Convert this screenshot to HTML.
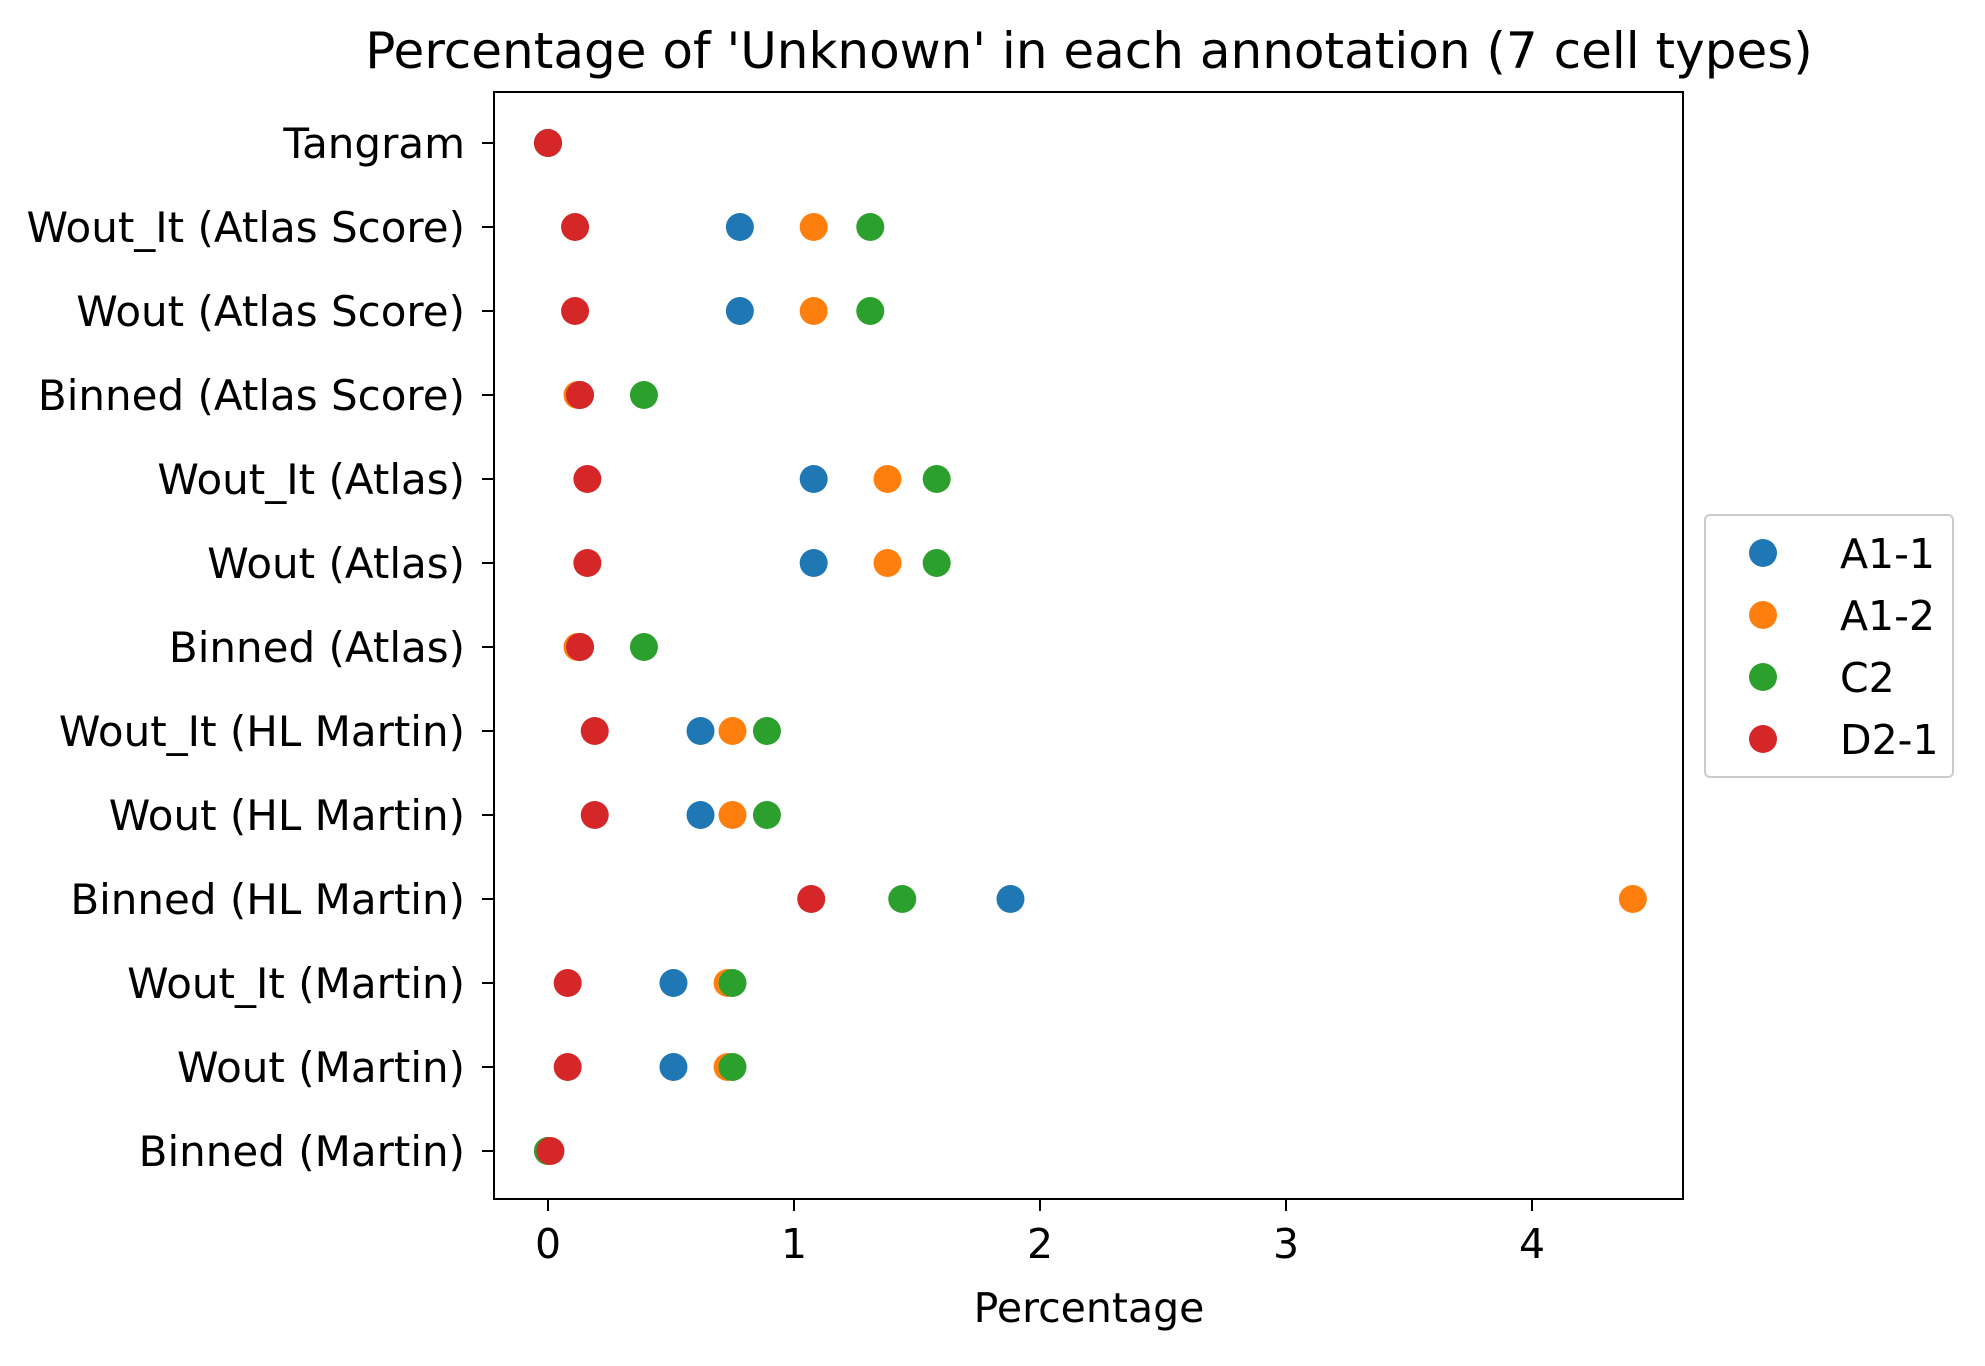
<!DOCTYPE html>
<html><head><meta charset="utf-8"><style>
body{margin:0;background:#fff}
svg text{font-family:"DejaVu Sans","Liberation Sans",sans-serif;fill:#000}
</style></head><body>
<svg id="chart" width="1985" height="1361" xmlns="http://www.w3.org/2000/svg">
<rect width="1985" height="1361" fill="#fff"/>
<text x="1089" y="68" font-size="50" text-anchor="middle">Percentage of 'Unknown' in each annotation (7 cell types)</text>
<g id="ticks"></g>
<g id="marks"></g>
<rect x="494" y="92" width="1189" height="1107" fill="none" stroke="#000" stroke-width="2"/>
<text x="1089" y="1322" font-size="41" text-anchor="middle">Percentage</text>
<g id="legend"></g>
</svg>
<script>
const categories=["Tangram","Wout_It (Atlas Score)","Wout (Atlas Score)","Binned (Atlas Score)","Wout_It (Atlas)","Wout (Atlas)","Binned (Atlas)","Wout_It (HL Martin)","Wout (HL Martin)","Binned (HL Martin)","Wout_It (Martin)","Wout (Martin)","Binned (Martin)"];
const seriesNames=["A1-1","A1-2","C2","D2-1"];
const colors=["#1f77b4","#ff7f0e","#2ca02c","#d62728"];
const a11=[0,0.78,0.78,0.13,1.08,1.08,0.13,0.62,0.62,1.88,0.51,0.51,0];
const a12=[0,1.08,1.08,0.12,1.38,1.38,0.12,0.75,0.75,4.41,0.73,0.73,0];
const c2=[0,1.31,1.31,0.39,1.58,1.58,0.39,0.89,0.89,1.44,0.75,0.75,0];
const d21=[0,0.11,0.11,0.13,0.16,0.16,0.13,0.19,0.19,1.07,0.08,0.08,0.01];
const xTicks=[0,1,2,3,4];
const series=[a11,a12,c2,d21];
const NS="http://www.w3.org/2000/svg";
const xs=v=>548+v*246;
const ys=i=>143+i*84;
function el(tag,attrs,parent,txt){const e=document.createElementNS(NS,tag);for(const k in attrs)e.setAttribute(k,attrs[k]);if(txt!==undefined)e.textContent=txt;parent.appendChild(e);return e;}
const tk=document.getElementById('ticks');
xTicks.forEach(t=>{
  const l=el('line',{x1:xs(t),x2:xs(t),y1:1199,y2:1211,stroke:'#000','stroke-width':2},tk);
  
  
  const tx=el('text',{x:xs(t),y:1258,'font-size':41,'text-anchor':'middle'},tk,String(t));
  
  
});
categories.forEach((c,i)=>{
  const l=el('line',{x1:482,x2:494,y1:ys(i),y2:ys(i),stroke:'#000','stroke-width':2},tk);
  
  
  const tx=el('text',{x:465,y:ys(i)+15,'font-size':42,'text-anchor':'end'},tk,c);
  
  
});
const mk=document.getElementById('marks');
series.forEach((s,si)=>{
  s.forEach((v,i)=>{
    const p=el('circle',{cx:xs(v),cy:ys(i),r:14,fill:colors[si]},mk);
    
    
  });
});
const lg=document.getElementById('legend');
el('rect',{x:1705,y:515,width:248,height:262,rx:5,fill:'#fff',stroke:'#ccc','stroke-width':2},lg);
seriesNames.forEach((n,i)=>{
  const y=553+i*62;
  const c=el('circle',{cx:1763,cy:y,r:14,fill:colors[i]},lg);
  
  
  const t=el('text',{x:1840,y:y+15,'font-size':41},lg,n);
  
  
});
</script>
</body></html>
